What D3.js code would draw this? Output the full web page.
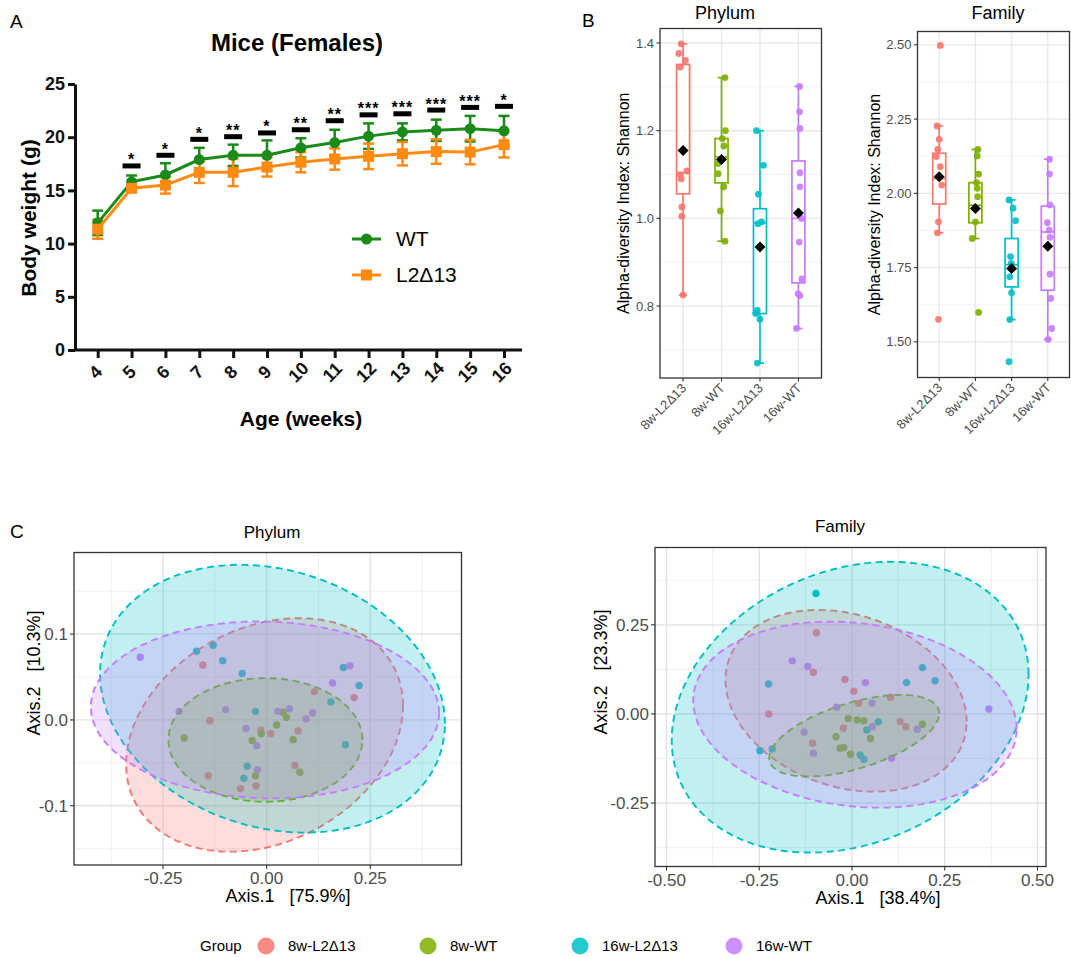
<!DOCTYPE html>
<html>
<head>
<meta charset="utf-8">
<script src="https://cdn.jsdelivr.net/npm/d3@7"></script>
<style>
  body { margin: 0; background: #fff; }
  svg { font-family: "Liberation Sans", Arial, Helvetica, sans-serif; }
  text { white-space: pre; }
</style>
</head>
<body>
<svg id="fig" width="1071" height="958"></svg>
<script>
// ---------------- data ----------------
// A: body weight (mean, SD) of female mice
var weeks = [4, 5, 6, 7, 8, 9, 10, 11, 12, 13, 14, 15, 16];
var wtMean = [11.95, 15.8, 16.45, 17.9, 18.3, 18.3, 19.0, 19.5, 20.1, 20.5, 20.65, 20.8, 20.6];
var wtSD   = [1.15, 0.6, 1.1, 1.1, 1.0, 1.4, 0.9, 1.2, 1.2, 0.8, 1.0, 1.2, 1.4];
var koMean = [11.35, 15.2, 15.5, 16.7, 16.7, 17.2, 17.65, 17.95, 18.2, 18.45, 18.65, 18.6, 19.3];
var koSD   = [0.9, 0.35, 0.8, 1.0, 1.3, 0.9, 0.95, 1.0, 1.2, 1.1, 1.15, 1.15, 1.2];
var sigLevel = [null, 17.3, 18.3, 19.8, 20.05, 20.4, 20.7, 21.55, 22.1, 22.2, 22.55, 22.8, 22.9];
var sigStars = ["", "*", "*", "*", "**", "*", "**", "**", "***", "***", "***", "***", "*"];
var bwTicks = [0, 5, 10, 15, 20, 25];

// B / C groups
var groups = ["8w-L2\u039413", "8w-WT", "16w-L2\u039413", "16w-WT"];
var groupColors = ["#F8766D", "#7CAE00", "#00BFC4", "#C77CFF"];

// B: Shannon index, phylum level
var phylumValues = [
  [1.398, 1.376, 1.36, 1.345, 1.108, 1.10, 1.09, 1.026, 1.005, 0.825],
  [1.321, 1.2, 1.182, 1.165, 1.125, 1.102, 1.072, 1.017, 0.948],
  [1.2, 1.121, 1.055, 0.992, 0.988, 0.79, 0.783, 0.77, 0.67],
  [1.301, 1.243, 1.205, 1.104, 1.072, 1.0, 0.946, 0.862, 0.828, 0.824, 0.749]
];
var phylumJitter = [
  [-0.05, -0.11, 0.06, -0.07, 0.10, -0.07, -0.05, -0.03, -0.03, 0.0],
  [0.09, 0.10, 0.02, 0.06, -0.09, -0.09, 0.06, -0.03, 0.09],
  [-0.09, 0.09, -0.04, 0.04, -0.05, -0.07, -0.11, 0.0, -0.07],
  [0.03, 0.03, 0.04, 0.04, 0.04, 0.08, 0.02, 0.09, -0.01, 0.04, -0.05]
];
// [lower whisker, Q1, median, Q3, upper whisker]
var phylumBox = [
  [0.825, 1.056, 1.104, 1.351, 1.398],
  [0.948, 1.081, 1.14, 1.182, 1.321],
  [0.67, 0.783, 0.99, 1.022, 1.2],
  [0.749, 0.853, 1.0, 1.131, 1.301]
];
var phylumMean = [1.155, 1.134, 0.935, 1.012];
var phylumTicks = [0.8, 1.0, 1.2, 1.4];
var phylumTickLabels = ["0.8", "1.0", "1.2", "1.4"];

// B: Shannon index, family level
var familyValues = [
  [2.498, 2.227, 2.182, 2.148, 2.124, 2.09, 2.028, 1.904, 1.867, 1.576],
  [2.148, 2.126, 2.065, 2.036, 2.017, 1.989, 1.904, 1.848, 1.599],
  [1.978, 1.95, 1.908, 1.787, 1.764, 1.719, 1.665, 1.575, 1.433],
  [2.115, 2.065, 1.961, 1.901, 1.876, 1.852, 1.728, 1.646, 1.545, 1.508]
];
var familyJitter = [
  [0.03, -0.06, 0.0, -0.04, -0.08, 0.03, 0.07, -0.02, -0.05, -0.02],
  [0.07, 0.05, 0.09, 0.03, 0.05, 0.06, 0.0, -0.09, 0.09],
  [-0.07, 0.04, 0.11, -0.03, -0.01, -0.05, 0.0, -0.05, -0.07],
  [0.05, 0.05, 0.06, -0.01, 0.04, 0.06, 0.06, 0.08, 0.11, 0.01]
];
var familyBox = [
  [1.867, 1.964, 2.05, 2.135, 2.227],
  [1.848, 1.901, 1.96, 2.036, 2.148],
  [1.575, 1.685, 1.76, 1.848, 1.978],
  [1.508, 1.674, 1.87, 1.957, 2.115]
];
var familyMean = [2.056, 1.949, 1.747, 1.822];
var familyTicks = [1.5, 1.75, 2.0, 2.25, 2.5];
var familyTickLabels = ["1.50", "1.75", "2.00", "2.25", "2.50"];

// C: PCoA coordinates, phylum level
var pcPhylumX = [
  [-0.154, -0.137, -0.141, -0.063, -0.026, -0.014, 0.010, 0.076, 0.068, 0.115, 0.211],
  [-0.199, -0.035, -0.013, 0.024, 0.048, 0.064, 0.080, -0.027, 0.040],
  [-0.169, -0.129, -0.106, -0.059, -0.027, -0.047, -0.055, 0.155, 0.185, 0.223, 0.190],
  [-0.305, -0.211, -0.099, -0.050, -0.024, -0.022, 0.027, 0.055, 0.095, 0.111, 0.159, 0.201]
];
var pcPhylumY = [
  [0.064, -0.001, -0.065, -0.080, -0.077, -0.012, -0.016, -0.013, -0.053, 0.033, 0.026],
  [-0.021, -0.024, -0.016, -0.006, 0.003, -0.023, -0.061, -0.065, 0.009],
  [0.080, 0.087, 0.069, 0.054, 0.010, -0.054, -0.068, 0.021, 0.061, 0.040, -0.029],
  [0.073, 0.010, 0.012, -0.010, -0.030, -0.058, 0.010, 0.013, 0.001, 0.008, 0.043, 0.063]
];
// ellipse: [centre x, centre y, half x-extent, half y-extent, tilt]
var ellPhylum = [
  [-0.005, -0.0175, 0.334, 0.136, 0.25],
  [-0.003, -0.0233, 0.234, 0.072, 0.0],
  [0.014, 0.0247, 0.416, 0.156, -0.1875],
  [-0.004, 0.0117, 0.420, 0.103, -0.035]
];
var pcPhylumXTicks = [-0.25, 0, 0.25], pcPhylumXLabels = ["-0.25", "0.00", "0.25"];
var pcPhylumYTicks = [-0.1, 0, 0.1], pcPhylumYLabels = ["-0.1", "0.0", "0.1"];

// C: PCoA coordinates, family level
var pcFamilyX = [
  [-0.096, -0.104, -0.019, 0.005, 0.018, 0.104, -0.224, -0.023, -0.106, 0.130, 0.145],
  [-0.010, 0.014, 0.032, -0.043, -0.032, -0.022, -0.004, 0.050, 0.190],
  [-0.097, -0.225, -0.248, -0.215, 0.147, 0.190, 0.224, 0.071, 0.040, 0.022, 0.032],
  [-0.161, -0.119, 0.036, 0.054, -0.041, 0.369, -0.129, -0.104, 0.055, 0.176, 0.107]
];
var pcFamilyY = [
  [0.228, 0.117, 0.097, 0.064, 0.030, 0.047, 0.000, -0.040, -0.082, -0.021, -0.036],
  [-0.013, -0.017, -0.019, -0.064, -0.096, -0.094, -0.113, -0.069, -0.029],
  [0.338, 0.084, -0.103, -0.098, 0.088, 0.130, 0.093, -0.022, -0.045, -0.115, -0.127],
  [0.149, 0.133, 0.088, 0.030, 0.019, 0.014, -0.051, -0.110, -0.036, -0.043, -0.124]
];
var ellFamily = [
  [-0.016, 0.037, 0.325, 0.255, -0.23],
  [0.006, -0.061, 0.229, 0.1145, 0.545],
  [-0.005, 0.019, 0.481, 0.408, 0.226],
  [0.008, -0.002, 0.436, 0.261, -0.15]
];
var pcFamilyXTicks = [-0.5, -0.25, 0, 0.25, 0.5], pcFamilyXLabels = ["-0.50", "-0.25", "0.00", "0.25", "0.50"];
var pcFamilyYTicks = [-0.25, 0, 0.25], pcFamilyYLabels = ["-0.25", "0.00", "0.25"];

// ---------------- drawing ----------------
var svg = d3.select("#fig");

function panelLabel(x, y, s) {
  svg.append("text").attr("x", x).attr("y", y).style("font-size", "19px").text(s);
}
panelLabel(10, 28, "A");
panelLabel(582, 27, "B");
panelLabel(10, 538, "C");

// ===== A: growth curves =====
var green = "#1a8a1a", orange = "#ff8a12";
var xA = d3.scaleLinear().domain([4, 16]).range([97.7, 504]);
var yA = d3.scaleLinear().domain([0, 25]).range([350, 84]);
var gA = svg.append("g");

gA.append("text").attr("x", 297).attr("y", 51).attr("text-anchor", "middle")
  .style("font-size", "24px").style("font-weight", "bold").text("Mice (Females)");

// x axis line runs a little past the last week
gA.append("line").attr("x1", 75).attr("x2", 522).attr("y1", yA(0)).attr("y2", yA(0))
  .attr("stroke", "#111").attr("stroke-width", 3);

var gxA = gA.append("g").attr("transform", "translate(0," + yA(0) + ")")
  .call(d3.axisBottom(xA).tickValues(weeks).tickSize(8).tickSizeOuter(0));
gxA.select(".domain").remove();
gxA.selectAll(".tick line").attr("stroke", "#111").attr("stroke-width", 3);
gxA.selectAll(".tick text")
  .attr("x", null).attr("y", null).attr("dy", "0.35em")
  .attr("transform", "translate(-3,22) rotate(-45)")
  .attr("text-anchor", "middle").attr("fill", "#111")
  .style("font-size", "18px").style("font-weight", "bold").style("font-family", "inherit");

var gyA = gA.append("g").attr("transform", "translate(75,0)")
  .call(d3.axisLeft(yA).tickValues(bwTicks).tickSize(7).tickSizeOuter(0).tickPadding(3));
gyA.select(".domain").attr("stroke", "#111").attr("stroke-width", 3);
gyA.selectAll(".tick line").attr("stroke", "#111").attr("stroke-width", 3);
gyA.selectAll(".tick text").attr("fill", "#111")
  .style("font-size", "18px").style("font-weight", "bold").style("font-family", "inherit");

gA.append("text").attr("transform", "translate(36,218) rotate(-90)").attr("text-anchor", "middle")
  .style("font-size", "21px").style("font-weight", "bold").text("Body weight (g)");
gA.append("text").attr("x", 301).attr("y", 426).attr("text-anchor", "middle")
  .style("font-size", "21px").style("font-weight", "bold").text("Age (weeks)");

function errorBars(mean, sd, col) {
  var g = gA.append("g").attr("stroke", col).attr("stroke-width", 2.5);
  weeks.forEach(function(w, i) {
    var x = xA(w), lo = yA(mean[i] - sd[i]), hi = yA(mean[i] + sd[i]);
    g.append("line").attr("x1", x).attr("x2", x).attr("y1", lo).attr("y2", hi);
    g.append("line").attr("x1", x - 5.5).attr("x2", x + 5.5).attr("y1", lo).attr("y2", lo);
    g.append("line").attr("x1", x - 5.5).attr("x2", x + 5.5).attr("y1", hi).attr("y2", hi);
  });
}
errorBars(wtMean, wtSD, green);
errorBars(koMean, koSD, orange);

var lineA = function(mean) {
  return d3.line().x(function(d, i) { return xA(weeks[i]); }).y(function(d) { return yA(d); })(mean);
};
gA.append("path").attr("d", lineA(wtMean)).attr("fill", "none").attr("stroke", green).attr("stroke-width", 3);
gA.selectAll(".wt").data(wtMean).enter().append("circle")
  .attr("cx", function(d, i) { return xA(weeks[i]); }).attr("cy", function(d) { return yA(d); })
  .attr("r", 5.5).attr("fill", green);
gA.append("path").attr("d", lineA(koMean)).attr("fill", "none").attr("stroke", orange).attr("stroke-width", 3);
gA.selectAll(".ko").data(koMean).enter().append("rect")
  .attr("x", function(d, i) { return xA(weeks[i]) - 5.5; }).attr("y", function(d) { return yA(d) - 5.5; })
  .attr("width", 11).attr("height", 11).attr("fill", orange);

// significance marks
weeks.forEach(function(w, i) {
  if (sigLevel[i] == null) return;
  gA.append("rect").attr("x", xA(w) - 9).attr("y", yA(sigLevel[i]) - 2.5)
    .attr("width", 18).attr("height", 5).attr("fill", "#000");
  gA.append("text").attr("x", xA(w)).attr("y", yA(sigLevel[i]) - 0.5).attr("text-anchor", "middle")
    .style("font-size", "16px").style("font-weight", "bold").style("letter-spacing", "1px").text(sigStars[i]);
});

// legend
var legA = gA.append("g");
legA.append("line").attr("x1", 352).attr("x2", 381).attr("y1", 239).attr("y2", 239).attr("stroke", green).attr("stroke-width", 3);
legA.append("circle").attr("cx", 366.5).attr("cy", 239).attr("r", 5.5).attr("fill", green);
legA.append("text").attr("x", 396).attr("y", 246).style("font-size", "21px").text("WT");
legA.append("line").attr("x1", 352).attr("x2", 381).attr("y1", 275).attr("y2", 275).attr("stroke", orange).attr("stroke-width", 3);
legA.append("rect").attr("x", 361).attr("y", 269.5).attr("width", 11).attr("height", 11).attr("fill", orange);
legA.append("text").attr("x", 396).attr("y", 282).style("font-size", "21px").text("L2\u039413");

// ===== B: alpha diversity box plots =====
function drawAlpha(o) {
  var g = svg.append("g");
  var x = d3.scalePoint().domain(groups).range([o.left, o.right]).padding(0.6);
  var y = d3.scaleLinear().domain(o.domain).range([o.bottom, o.top]);

  g.append("rect").attr("x", o.left).attr("y", o.top).attr("width", o.right - o.left)
    .attr("height", o.bottom - o.top).attr("fill", "#fff");
  // grid
  o.ticks.forEach(function(t, i) {
    if (i < o.ticks.length - 1) {
      var m = (t + o.ticks[i + 1]) / 2;
      g.append("line").attr("x1", o.left).attr("x2", o.right).attr("y1", y(m)).attr("y2", y(m))
        .attr("stroke", "#f1f1f1").attr("stroke-width", 0.9);
    }
  });
  if (o.minorBelow != null) {
    g.append("line").attr("x1", o.left).attr("x2", o.right).attr("y1", y(o.minorBelow)).attr("y2", y(o.minorBelow))
      .attr("stroke", "#f1f1f1").attr("stroke-width", 0.9);
  }
  o.ticks.forEach(function(t) {
    g.append("line").attr("x1", o.left).attr("x2", o.right).attr("y1", y(t)).attr("y2", y(t))
      .attr("stroke", "#e8e8e8").attr("stroke-width", 1.4);
  });
  groups.forEach(function(k) {
    g.append("line").attr("x1", x(k)).attr("x2", x(k)).attr("y1", o.top).attr("y2", o.bottom)
      .attr("stroke", "#e8e8e8").attr("stroke-width", 1.4);
  });

  var step = x.step();
  groups.forEach(function(k, gi) {
    var b = o.box[gi], cx = x(k), col = groupColors[gi];
    var bg = g.append("g").attr("stroke", col).attr("stroke-width", 1.7).attr("fill", "none");
    bg.append("line").attr("x1", cx).attr("x2", cx).attr("y1", y(b[0])).attr("y2", y(b[1]));
    bg.append("line").attr("x1", cx).attr("x2", cx).attr("y1", y(b[3])).attr("y2", y(b[4]));
    bg.append("line").attr("x1", cx - 4).attr("x2", cx + 4).attr("y1", y(b[0])).attr("y2", y(b[0]));
    bg.append("line").attr("x1", cx - 4).attr("x2", cx + 4).attr("y1", y(b[4])).attr("y2", y(b[4]));
    bg.append("rect").attr("x", cx - 6.5).attr("y", y(b[3])).attr("width", 13)
      .attr("height", y(b[1]) - y(b[3])).attr("fill", "#fff").attr("fill-opacity", 0.75);
    bg.append("line").attr("x1", cx - 6.5).attr("x2", cx + 6.5).attr("y1", y(b[2])).attr("y2", y(b[2]));

    g.selectAll(null).data(o.values[gi]).enter().append("circle")
      .attr("cx", function(d, i) { return cx + o.jitter[gi][i] * step; })
      .attr("cy", function(d) { return y(d); })
      .attr("r", 3.4).attr("fill", col).attr("fill-opacity", 0.9);

    var my = y(o.mean[gi]);
    g.append("path").attr("d", "M" + cx + "," + (my - 5.5) + "L" + (cx + 5.5) + "," + my + "L" + cx + "," + (my + 5.5) + "L" + (cx - 5.5) + "," + my + "Z")
      .attr("fill", "#000");
  });

  // border + ticks
  g.append("rect").attr("x", o.left).attr("y", o.top).attr("width", o.right - o.left)
    .attr("height", o.bottom - o.top).attr("fill", "none").attr("stroke", "#333").attr("stroke-width", 1.3);
  o.ticks.forEach(function(t, i) {
    g.append("line").attr("x1", o.left - 3.5).attr("x2", o.left).attr("y1", y(t)).attr("y2", y(t))
      .attr("stroke", "#333").attr("stroke-width", 1.1);
    g.append("text").attr("x", o.left - 6).attr("y", y(t)).attr("dy", "0.35em").attr("text-anchor", "end")
      .attr("fill", "#4d4d4d").style("font-size", "13px").text(o.tickLabels[i]);
  });
  groups.forEach(function(k) {
    g.append("line").attr("x1", x(k)).attr("x2", x(k)).attr("y1", o.bottom).attr("y2", o.bottom + 3.5)
      .attr("stroke", "#333").attr("stroke-width", 1.1);
    g.append("text").attr("transform", "translate(" + (x(k) + 4) + "," + (o.bottom + 11) + ") rotate(-45)")
      .attr("text-anchor", "end").attr("fill", "#4d4d4d").style("font-size", "13px").text(k);
  });
  g.append("text").attr("transform", "translate(" + o.ytitleX + "," + ((o.top + o.bottom) / 2) + ") rotate(-90)")
    .attr("text-anchor", "middle").style("font-size", "16px").text("Alpha-diversity Index: Shannon");
  g.append("text").attr("x", o.titleX).attr("y", 19).attr("text-anchor", "middle")
    .style("font-size", "18px").text(o.title);
}

drawAlpha({
  left: 660, right: 821.5, top: 28.5, bottom: 378,
  domain: [0.636, 1.433], ticks: phylumTicks, tickLabels: phylumTickLabels, minorBelow: 0.7,
  values: phylumValues, jitter: phylumJitter, box: phylumBox, mean: phylumMean,
  title: "Phylum", titleX: 725, ytitleX: 629
});
drawAlpha({
  left: 917.5, right: 1069.5, top: 31.5, bottom: 377.5,
  domain: [1.38, 2.545], ticks: familyTicks, tickLabels: familyTickLabels, minorBelow: null,
  values: familyValues, jitter: familyJitter, box: familyBox, mean: familyMean,
  title: "Family", titleX: 998, ytitleX: 880
});

// ===== C: PCoA ordinations =====
function drawPcoa(o) {
  var g = svg.append("g");
  var x = d3.scaleLinear().domain(o.xdomain).range([o.left, o.right]);
  var y = d3.scaleLinear().domain(o.ydomain).range([o.bottom, o.top]);

  g.append("rect").attr("x", o.left).attr("y", o.top).attr("width", o.right - o.left)
    .attr("height", o.bottom - o.top).attr("fill", "#fff");
  o.xminor.forEach(function(t) {
    g.append("line").attr("x1", x(t)).attr("x2", x(t)).attr("y1", o.top).attr("y2", o.bottom)
      .attr("stroke", "#efefef").attr("stroke-width", 1);
  });
  o.yminor.forEach(function(t) {
    g.append("line").attr("x1", o.left).attr("x2", o.right).attr("y1", y(t)).attr("y2", y(t))
      .attr("stroke", "#efefef").attr("stroke-width", 1);
  });
  o.xticks.forEach(function(t) {
    g.append("line").attr("x1", x(t)).attr("x2", x(t)).attr("y1", o.top).attr("y2", o.bottom)
      .attr("stroke", "#e3e3e3").attr("stroke-width", 1.4);
  });
  o.yticks.forEach(function(t) {
    g.append("line").attr("x1", o.left).attr("x2", o.right).attr("y1", y(t)).attr("y2", y(t))
      .attr("stroke", "#e3e3e3").attr("stroke-width", 1.4);
  });

  // samples
  groups.forEach(function(k, gi) {
    g.selectAll(null).data(o.px[gi]).enter().append("circle")
      .attr("cx", function(d) { return x(d); })
      .attr("cy", function(d, i) { return y(o.py[gi][i]); })
      .attr("r", 3.7).attr("fill", groupColors[gi]);
  });

  // group ellipses
  var ellLine = d3.line().curve(d3.curveLinearClosed);
  groups.forEach(function(k, gi) {
    var e = o.ell[gi], phi = Math.asin(e[4]);
    var pts = d3.range(0, 120).map(function(j) {
      var t = j / 120 * 2 * Math.PI;
      return [x(e[0] + e[2] * Math.cos(t)), y(e[1] + e[3] * Math.sin(t + phi))];
    });
    g.append("path").attr("d", ellLine(pts))
      .attr("fill", groupColors[gi]).attr("fill-opacity", 0.24)
      .attr("stroke", groupColors[gi]).attr("stroke-width", 1.9).attr("stroke-dasharray", "7,4.5");
  });

  g.append("rect").attr("x", o.left).attr("y", o.top).attr("width", o.right - o.left)
    .attr("height", o.bottom - o.top).attr("fill", "none").attr("stroke", "#333").attr("stroke-width", 1.3);
  o.xticks.forEach(function(t, i) {
    g.append("line").attr("x1", x(t)).attr("x2", x(t)).attr("y1", o.bottom).attr("y2", o.bottom + 4)
      .attr("stroke", "#333").attr("stroke-width", 1.1);
    g.append("text").attr("x", x(t)).attr("y", o.bottom + 19).attr("text-anchor", "middle")
      .attr("fill", "#4d4d4d").style("font-size", "17px").text(o.xlabels[i]);
  });
  o.yticks.forEach(function(t, i) {
    g.append("line").attr("x1", o.left - 4).attr("x2", o.left).attr("y1", y(t)).attr("y2", y(t))
      .attr("stroke", "#333").attr("stroke-width", 1.1);
    g.append("text").attr("x", o.left - 6).attr("y", y(t)).attr("dy", "0.35em").attr("text-anchor", "end")
      .attr("fill", "#4d4d4d").style("font-size", "17px").text(o.ylabels[i]);
  });
  g.append("text").attr("x", o.xtitle[0]).attr("y", o.xtitle[1]).attr("text-anchor", "middle")
    .style("font-size", "18px").text(o.xtitleText);
  g.append("text").attr("transform", "translate(" + o.ytitle[0] + "," + o.ytitle[1] + ") rotate(-90)")
    .attr("text-anchor", "middle").style("font-size", "18px").text(o.ytitleText);
  g.append("text").attr("x", o.titleX).attr("y", o.titleY).attr("text-anchor", "middle")
    .style("font-size", "17px").text(o.title);
}

drawPcoa({
  left: 74, right: 461.5, top: 552.5, bottom: 865,
  xdomain: [-0.4647, 0.470], ydomain: [-0.169, 0.195],
  xticks: pcPhylumXTicks, xlabels: pcPhylumXLabels, yticks: pcPhylumYTicks, ylabels: pcPhylumYLabels,
  xminor: [-0.375, -0.125, 0.125, 0.375], yminor: [-0.15, -0.05, 0.05, 0.15],
  px: pcPhylumX, py: pcPhylumY, ell: ellPhylum,
  xtitle: [288, 902], xtitleText: "Axis.1   [75.9%]",
  ytitle: [40, 673], ytitleText: "Axis.2   [10.3%]",
  title: "Phylum", titleX: 272, titleY: 538
});
drawPcoa({
  left: 655, right: 1046, top: 547.5, bottom: 866.5,
  xdomain: [-0.531, 0.523], ydomain: [-0.428, 0.467],
  xticks: pcFamilyXTicks, xlabels: pcFamilyXLabels, yticks: pcFamilyYTicks, ylabels: pcFamilyYLabels,
  xminor: [-0.375, -0.125, 0.125, 0.375], yminor: [-0.375, -0.125, 0.125, 0.375],
  px: pcFamilyX, py: pcFamilyY, ell: ellFamily,
  xtitle: [878, 904], xtitleText: "Axis.1   [38.4%]",
  ytitle: [607, 672], ytitleText: "Axis.2   [23.3%]",
  title: "Family", titleX: 840, titleY: 532
});

// shared legend
var leg = svg.append("g");
leg.append("text").attr("x", 200).attr("y", 951).style("font-size", "15px").text("Group");
var legX = [266, 428, 580, 734];
groups.forEach(function(k, gi) {
  leg.append("circle").attr("cx", legX[gi]).attr("cy", 946).attr("r", 8.5)
    .attr("fill", groupColors[gi]).attr("fill-opacity", 0.85);
  leg.append("text").attr("x", legX[gi] + 22).attr("y", 951).style("font-size", "15px").text(k);
});
</script>
</body>
</html>
